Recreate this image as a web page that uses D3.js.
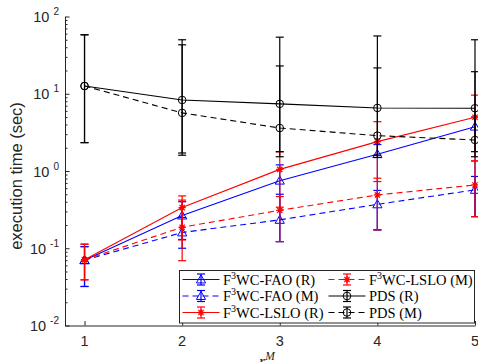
<!DOCTYPE html>
<html>
<head>
<meta charset="utf-8">
<script src="https://cdn.jsdelivr.net/npm/d3@7"></script>
<style>
  body { margin: 0; background: #fff; }
  svg { display: block; }
</style>
</head>
<body>
<svg id="chart" width="478" height="362"></svg>
<script>
// x values (r^M)
const xVals = [1, 2, 3, 4, 5];

// F3WC-FAO (R)
const faoRMean = [0.070, 0.265, 0.75, 1.65, 3.75];
const faoRLow  = [0.032, 0.13, 0.122, 0.173, 0.257];
const faoRHigh = [0.105, 0.40, 1.2, 2.2, 5.0];
// F3WC-FAO (M)
const faoMMean = [0.070, 0.160, 0.233, 0.37, 0.57];
const faoMLow  = [0.032, 0.10, 0.122, 0.173, 0.257];
const faoMHigh = [0.105, 0.25, 0.50, 0.56, 0.85];
// F3WC-LSLO (R)
const lsloRMean = [0.071, 0.336, 1.05, 2.4, 4.97];
const lsloRLow  = [0.039, 0.069, 0.34, 0.73, 1.35];
const lsloRHigh = [0.113, 0.476, 1.77, 4.35, 9.6];
// F3WC-LSLO (M)
const lsloMMean = [0.071, 0.187, 0.31, 0.49, 0.66];
const lsloMLow  = [0.039, 0.128, 0.122, 0.173, 0.257];
const lsloMHigh = [0.113, 0.42, 0.467, 0.807, 1.35];
// PDS (R)
const pdsRMean = [12.6, 8.3, 7.4, 6.55, 6.5];
const pdsRLow  = [2.33, 1.71, 1.78, 1.6, 1.78];
const pdsRHigh = [58, 50, 54, 56, 50];
// PDS (M)
const pdsMMean = [12.6, 5.65, 3.6, 2.87, 2.52];
const pdsMLow  = [2.33, 1.6, 1.53, 1.5, 1.53];
const pdsMHigh = [58, 43, 22.9, 21.6, 19.3];

const yTickExp = [-2, -1, 0, 1, 2];
const xTicks = [1, 2, 3, 4, 5];

const series = [
  { name: 'FAO (R)', mean: faoRMean, low: faoRLow, high: faoRHigh, color: '#0000ff', dash: null, marker: 'tri' },
  { name: 'FAO (M)', mean: faoMMean, low: faoMLow, high: faoMHigh, color: '#0000ff', dash: '6,4', marker: 'tri' },
  { name: 'LSLO (R)', mean: lsloRMean, low: lsloRLow, high: lsloRHigh, color: '#ff0000', dash: null, marker: 'star' },
  { name: 'LSLO (M)', mean: lsloMMean, low: lsloMLow, high: lsloMHigh, color: '#ff0000', dash: '6,4', marker: 'star' },
  { name: 'PDS (R)', mean: pdsRMean, low: pdsRLow, high: pdsRHigh, color: '#000000', dash: null, marker: 'circle' },
  { name: 'PDS (M)', mean: pdsMMean, low: pdsMLow, high: pdsMHigh, color: '#000000', dash: '6,4', marker: 'circle' }
];

const svg = d3.select('#chart');
const axisColor = '#262626';

const x = d3.scaleLinear().domain([0.8, 5]).range([65, 475]);
const y = d3.scaleLog().domain([1e-2, 1e2]).range([325.5, 16.5]);

function drawMarker(g, kind, cx, cy, color) {
  if (kind === 'tri') {
    const r = 4.6;
    g.append('path')
      .attr('d', `M${cx},${cy - r} L${cx + r},${cy + r * 0.75} L${cx - r},${cy + r * 0.75} Z`)
      .attr('fill', 'none').attr('stroke', color).attr('stroke-width', 1);
  } else if (kind === 'circle') {
    g.append('circle')
      .attr('cx', cx).attr('cy', cy).attr('r', 3.8)
      .attr('fill', 'none').attr('stroke', color).attr('stroke-width', 1);
  } else {
    const r = 3.6, d = r * 0.72;
    g.append('path')
      .attr('d', `M${cx - r},${cy} H${cx + r} M${cx},${cy - r} V${cy + r} M${cx - d},${cy - d} L${cx + d},${cy + d} M${cx - d},${cy + d} L${cx + d},${cy - d}`)
      .attr('stroke', color).attr('stroke-width', 1.3);
  }
}

// Axes
const yMinor = [];
for (let e = -2; e < 2; e++) {
  for (let k = 2; k <= 9; k++) yMinor.push(k * Math.pow(10, e));
}

const gAxes = svg.append('g');

gAxes.append('g')
  .attr('transform', 'translate(65,0)')
  .call(d3.axisLeft(y).tickValues(yMinor).tickSize(-2.5).tickFormat(''))
  .call(a => a.select('.domain').remove())
  .call(a => a.selectAll('line').attr('stroke', axisColor));

gAxes.append('g')
  .attr('transform', 'translate(65,0)')
  .call(d3.axisLeft(y).tickValues(yTickExp.map(e => Math.pow(10, e))).tickSize(-4.5).tickSizeOuter(0).tickFormat(''))
  .call(a => a.select('.domain').attr('stroke', axisColor))
  .call(a => a.selectAll('line').attr('stroke', axisColor));

gAxes.append('g')
  .attr('transform', 'translate(0,325.5)')
  .call(d3.axisBottom(x).tickValues(xTicks).tickSize(-4.5).tickSizeOuter(0).tickFormat(''))
  .call(a => a.select('.domain').attr('stroke', axisColor))
  .call(a => a.selectAll('line').attr('stroke', axisColor));

// y tick labels 10^k
yTickExp.forEach(e => {
  const t = gAxes.append('text')
    .attr('x', 59).attr('y', y(Math.pow(10, e)) + 5.5)
    .attr('text-anchor', 'end')
    .attr('font-family', 'Liberation Sans, Arial, sans-serif')
    .attr('font-size', 14.5)
    .attr('fill', axisColor);
  t.append('tspan').text('10 ');
  t.append('tspan').attr('font-size', 10).attr('dy', -7).text(e < 0 ? '-' + (-e) : e);
});

// x tick labels
xTicks.forEach(v => {
  gAxes.append('text')
    .attr('x', x(v)).attr('y', 346)
    .attr('text-anchor', 'middle')
    .attr('font-family', 'Liberation Sans, Arial, sans-serif')
    .attr('font-size', 14.5)
    .attr('fill', axisColor)
    .text(v);
});

// y label
gAxes.append('text')
  .attr('transform', 'translate(22,176) rotate(-90)')
  .attr('text-anchor', 'middle')
  .attr('font-family', 'Liberation Sans, Arial, sans-serif')
  .attr('font-size', 16.5)
  .attr('fill', axisColor)
  .text('execution time (sec)');

// x label (partly cut by the figure edge, as in the original)
const xl = gAxes.append('text')
  .attr('x', 267).attr('y', 367)
  .attr('text-anchor', 'middle')
  .attr('font-family', 'Liberation Serif, Times New Roman, serif')
  .attr('font-style', 'italic')
  .attr('font-size', 16)
  .attr('fill', axisColor);
xl.append('tspan').text('r');
xl.append('tspan').attr('font-size', 11.5).attr('dy', -7).text('M');

// Series
const gPlot = svg.append('g');
const line = d3.line().x(d => x(d[0])).y(d => y(d[1]));

series.forEach(s => {
  const g = gPlot.append('g');
  const pts = xVals.map((v, i) => [v, s.mean[i]]);

  // error bars
  xVals.forEach((v, i) => {
    const cx = x(v), y0 = y(s.low[i]), y1 = y(s.high[i]);
    g.append('line').attr('x1', cx).attr('x2', cx).attr('y1', y0).attr('y2', y1)
      .attr('stroke', s.color).attr('stroke-width', 1.2);
    [y0, y1].forEach(yy => {
      g.append('line').attr('x1', cx - 4).attr('x2', cx + 4).attr('y1', yy).attr('y2', yy)
        .attr('stroke', s.color).attr('stroke-width', 1.2);
    });
  });

  g.append('path')
    .datum(pts)
    .attr('fill', 'none')
    .attr('stroke', s.color)
    .attr('stroke-width', 1.1)
    .attr('stroke-dasharray', s.dash)
    .attr('d', line);

  pts.forEach(p => drawMarker(g, s.marker, x(p[0]), y(p[1]), s.color));
});

// Legend
const legend = svg.append('g');
legend.append('rect')
  .attr('x', 179.5).attr('y', 270.5).attr('width', 295).attr('height', 52.5)
  .attr('fill', '#fff').attr('stroke', axisColor).attr('stroke-width', 1);

series.forEach((s, i) => {
  const col = Math.floor(i / 3), row = i % 3;
  const mx = col === 0 ? 201 : 347;
  const cy = 279.5 + row * 16.5;
  const g = legend.append('g');
  g.append('line').attr('x1', mx - 18.5).attr('x2', mx + 18.5).attr('y1', cy).attr('y2', cy)
    .attr('stroke', s.color).attr('stroke-width', 1.1).attr('stroke-dasharray', s.dash);
  g.append('line').attr('x1', mx).attr('x2', mx).attr('y1', cy - 5.5).attr('y2', cy + 5.5)
    .attr('stroke', s.color).attr('stroke-width', 1.2);
  [cy - 5.5, cy + 5.5].forEach(yy => {
    g.append('line').attr('x1', mx - 4).attr('x2', mx + 4).attr('y1', yy).attr('y2', yy)
      .attr('stroke', s.color).attr('stroke-width', 1.2);
  });
  drawMarker(g, s.marker, mx, cy, s.color);

  const t = g.append('text')
    .attr('x', mx + 22).attr('y', cy + 5)
    .attr('font-family', 'Liberation Serif, Times New Roman, serif')
    .attr('font-size', 14.5)
    .attr('fill', '#000');
  if (s.marker === 'circle') {
    t.text(s.name.replace('(', ' ('));
  } else {
    t.append('tspan').text('F');
    t.append('tspan').attr('font-size', 10).attr('dy', -6).text('3');
    t.append('tspan').attr('dy', 6).text('WC-' + s.name.replace('(', ' ('));
  }
});
</script>
</body>
</html>
